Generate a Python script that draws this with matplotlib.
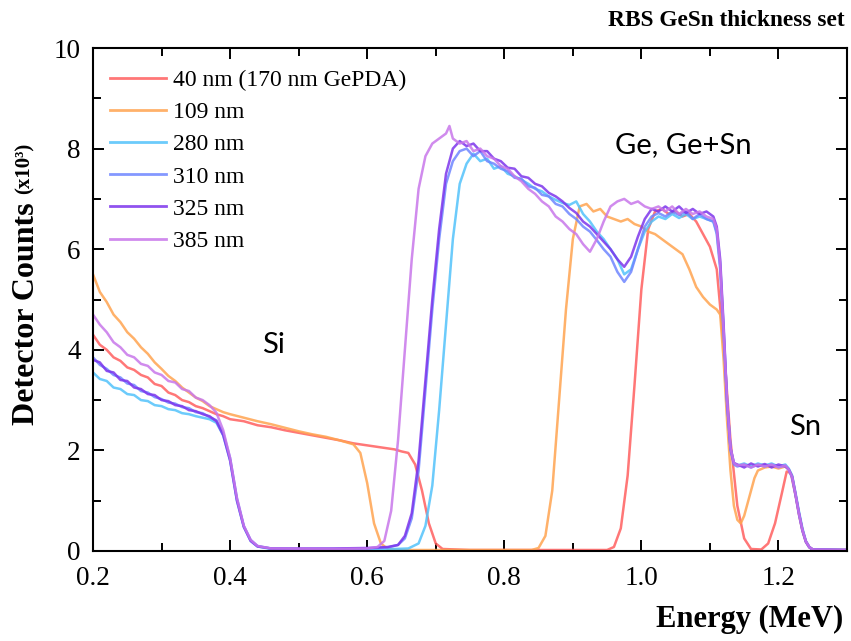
import matplotlib
matplotlib.use("Agg")
import matplotlib.pyplot as plt
from matplotlib.ticker import MultipleLocator, FormatStrFormatter

# ---------------- data ----------------
labels = ["40 nm (170 nm GePDA)", "109 nm", "280 nm", "310 nm", "325 nm", "385 nm"]
colors = ["#ff5f5f", "#ffa450", "#52c2fb", "#6f86ff", "#7d35ec", "#c877ea"]

x_40 = [0.20, 0.21, 0.22, 0.23, 0.24, 0.25, 0.26, 0.27, 0.28, 0.29, 0.30, 0.31, 0.32, 0.33, 0.34, 0.35,
        0.36, 0.37, 0.38, 0.39, 0.40, 0.42, 0.44, 0.46, 0.48, 0.50, 0.52, 0.54, 0.56, 0.58, 0.60, 0.62,
        0.64, 0.65, 0.66, 0.67, 0.68, 0.69, 0.70, 0.71, 0.75, 0.95, 0.96, 0.97, 0.98, 0.99, 1.00, 1.01,
        1.02, 1.03, 1.04, 1.05, 1.06, 1.07, 1.08, 1.09, 1.10, 1.11, 1.12, 1.13, 1.14, 1.15, 1.16, 1.175,
        1.185, 1.195, 1.205, 1.212, 1.218, 1.225, 1.23, 1.235, 1.24, 1.245, 1.25, 1.30]
y_40 = [4.30, 4.10, 4.00, 3.85, 3.78, 3.65, 3.60, 3.50, 3.45, 3.32, 3.28, 3.15, 3.10, 3.00, 2.96, 2.88,
        2.84, 2.78, 2.72, 2.68, 2.62, 2.58, 2.50, 2.46, 2.40, 2.35, 2.30, 2.25, 2.20, 2.14, 2.10, 2.06,
        2.02, 1.98, 1.95, 1.72, 1.20, 0.55, 0.15, 0.04, 0.02, 0.02, 0.08, 0.45, 1.50, 3.30, 5.20, 6.40,
        6.75, 6.80, 6.70, 6.75, 6.65, 6.70, 6.55, 6.30, 6.05, 5.60, 4.10, 2.20, 0.90, 0.25, 0.04, 0.03,
        0.15, 0.55, 1.15, 1.58, 1.55, 1.10, 0.72, 0.40, 0.18, 0.07, 0.03, 0.02]

x_109 = [0.20, 0.21, 0.22, 0.23, 0.24, 0.25, 0.26, 0.27, 0.28, 0.29, 0.30, 0.31, 0.32, 0.33, 0.34, 0.35,
         0.36, 0.37, 0.38, 0.39, 0.40, 0.42, 0.44, 0.46, 0.48, 0.50, 0.52, 0.54, 0.56, 0.58, 0.59, 0.60,
         0.61, 0.62, 0.63, 0.65, 0.84, 0.85, 0.86, 0.87, 0.88, 0.89, 0.90, 0.91, 0.92, 0.93, 0.94, 0.95,
         0.96, 0.97, 0.98, 0.99, 1.00, 1.01, 1.02, 1.03, 1.04, 1.05, 1.06, 1.07, 1.08, 1.09, 1.10, 1.11,
         1.115, 1.12, 1.125, 1.13, 1.135, 1.14, 1.145, 1.15, 1.155, 1.16, 1.165, 1.17, 1.18, 1.19, 1.20,
         1.21, 1.215, 1.22, 1.225, 1.23, 1.235, 1.24, 1.245, 1.25, 1.30]
y_109 = [5.50, 5.15, 4.95, 4.70, 4.55, 4.35, 4.22, 4.05, 3.92, 3.75, 3.62, 3.48, 3.38, 3.25, 3.15, 3.05,
         2.98, 2.88, 2.82, 2.76, 2.72, 2.65, 2.58, 2.52, 2.45, 2.38, 2.32, 2.27, 2.20, 2.12, 1.95, 1.35,
         0.55, 0.15, 0.04, 0.02, 0.02, 0.06, 0.30, 1.20, 3.00, 4.80, 6.20, 6.85, 6.90, 6.75, 6.80, 6.65,
         6.60, 6.55, 6.60, 6.50, 6.45, 6.35, 6.30, 6.20, 6.10, 6.00, 5.90, 5.60, 5.25, 5.05, 4.90, 4.80,
         4.70, 3.80, 2.60, 1.60, 0.90, 0.62, 0.55, 0.70, 0.95, 1.20, 1.45, 1.60, 1.66, 1.68, 1.64,
         1.68, 1.62, 1.48, 1.12, 0.74, 0.42, 0.19, 0.08, 0.03, 0.02]

x_280 = [0.20, 0.21, 0.22, 0.23, 0.24, 0.25, 0.26, 0.27, 0.28, 0.29, 0.30, 0.31, 0.32, 0.33, 0.34, 0.35,
         0.36, 0.37, 0.38, 0.39, 0.40, 0.41, 0.42, 0.43, 0.44, 0.46, 0.55, 0.62, 0.66, 0.675, 0.685, 0.695,
         0.705, 0.715, 0.725, 0.735, 0.745, 0.755, 0.765, 0.775, 0.785, 0.795, 0.805, 0.815, 0.825, 0.835,
         0.845, 0.855, 0.865, 0.875, 0.885, 0.895, 0.905, 0.915, 0.925, 0.935, 0.945, 0.955, 0.965, 0.975,
         0.985, 0.995, 1.005, 1.015, 1.025, 1.035, 1.045, 1.055, 1.065, 1.075, 1.085, 1.095, 1.105, 1.11,
         1.115, 1.12, 1.125, 1.13, 1.135, 1.14, 1.15, 1.16, 1.17, 1.18, 1.19, 1.20, 1.21, 1.215, 1.22,
         1.225, 1.23, 1.235, 1.24, 1.245, 1.25, 1.30]
y_280 = [3.55, 3.42, 3.38, 3.25, 3.22, 3.12, 3.10, 3.00, 2.98, 2.90, 2.88, 2.82, 2.80, 2.74, 2.72, 2.68,
         2.65, 2.62, 2.55, 2.30, 1.80, 1.00, 0.48, 0.20, 0.09, 0.04, 0.03, 0.03, 0.05, 0.15, 0.50, 1.30,
         2.80, 4.50, 6.20, 7.30, 7.70, 7.90, 7.75, 7.80, 7.60, 7.65, 7.50, 7.45, 7.38, 7.30,
         7.20, 7.15, 7.05, 6.98, 6.92, 6.88, 6.95, 6.70, 6.55, 6.35, 6.20, 6.00, 5.80, 5.50,
         5.60, 6.00, 6.35, 6.55, 6.65, 6.60, 6.70, 6.62, 6.70, 6.60, 6.65, 6.60, 6.55, 6.35,
         5.70, 4.40, 3.00, 2.05, 1.75, 1.70, 1.74, 1.68, 1.74, 1.70, 1.74, 1.68, 1.72, 1.64, 1.50,
         1.15, 0.78, 0.45, 0.20, 0.08, 0.03, 0.02]

x_310 = [0.20, 0.21, 0.22, 0.23, 0.24, 0.25, 0.26, 0.27, 0.28, 0.29, 0.30, 0.31, 0.32, 0.33, 0.34, 0.35,
         0.36, 0.37, 0.38, 0.39, 0.40, 0.41, 0.42, 0.43, 0.44, 0.46, 0.50, 0.55, 0.60, 0.63, 0.645, 0.655,
         0.665, 0.675, 0.685, 0.695, 0.705, 0.715, 0.725, 0.735, 0.745, 0.755, 0.765, 0.775, 0.785, 0.795,
         0.805, 0.815, 0.825, 0.835, 0.845, 0.855, 0.865, 0.875, 0.885, 0.895, 0.905, 0.915, 0.925, 0.935,
         0.945, 0.955, 0.965, 0.975, 0.985, 0.995, 1.005, 1.015, 1.025, 1.035, 1.045, 1.055, 1.065, 1.075,
         1.085, 1.095, 1.105, 1.11, 1.115, 1.12, 1.125, 1.13, 1.135, 1.14, 1.15, 1.16, 1.17, 1.18, 1.19,
         1.20, 1.21, 1.215, 1.22, 1.225, 1.23, 1.235, 1.24, 1.245, 1.25, 1.30]
y_310 = [3.85, 3.70, 3.62, 3.50, 3.45, 3.33, 3.30, 3.18, 3.15, 3.06, 3.02, 2.95, 2.93, 2.86, 2.84, 2.76,
         2.74, 2.66, 2.60, 2.35, 1.85, 1.05, 0.50, 0.22, 0.10, 0.05, 0.04, 0.04, 0.05, 0.07, 0.12, 0.25,
         0.65, 1.60, 3.20, 4.80, 6.20, 7.30, 7.75, 7.95, 8.00, 7.85, 7.95, 7.75, 7.70, 7.60,
         7.55, 7.42, 7.40, 7.25, 7.22, 7.08, 7.05, 6.90, 6.85, 6.70, 6.60, 6.45, 6.35, 6.18,
         6.00, 5.85, 5.55, 5.35, 5.55, 6.00, 6.45, 6.65, 6.72, 6.65, 6.75, 6.68, 6.75, 6.60,
         6.70, 6.60, 6.55, 6.30, 5.60, 4.30, 2.90, 2.00, 1.72, 1.68, 1.72, 1.66, 1.72, 1.68, 1.72,
         1.67, 1.70, 1.62, 1.45, 1.10, 0.72, 0.40, 0.18, 0.07, 0.03, 0.02]

x_325 = [0.20, 0.21, 0.22, 0.23, 0.24, 0.25, 0.26, 0.27, 0.28, 0.29, 0.30, 0.31, 0.32, 0.33, 0.34, 0.35,
         0.36, 0.37, 0.38, 0.39, 0.40, 0.41, 0.42, 0.43, 0.44, 0.46, 0.50, 0.55, 0.60, 0.63, 0.645, 0.655,
         0.665, 0.675, 0.685, 0.695, 0.705, 0.715, 0.725, 0.735, 0.745, 0.755, 0.765, 0.775, 0.785, 0.795,
         0.805, 0.815, 0.825, 0.835, 0.845, 0.855, 0.865, 0.875, 0.885, 0.895, 0.905, 0.915, 0.925, 0.935,
         0.945, 0.955, 0.965, 0.975, 0.985, 0.995, 1.005, 1.015, 1.025, 1.035, 1.045, 1.055, 1.065, 1.075,
         1.085, 1.095, 1.105, 1.11, 1.115, 1.12, 1.125, 1.13, 1.135, 1.14, 1.15, 1.16, 1.17, 1.18, 1.19,
         1.20, 1.21, 1.215, 1.22, 1.225, 1.23, 1.235, 1.24, 1.245, 1.25, 1.30]
y_325 = [3.80, 3.75, 3.58, 3.55, 3.40, 3.38, 3.25, 3.22, 3.12, 3.10, 3.00, 2.98, 2.90, 2.88, 2.80, 2.78,
         2.72, 2.68, 2.58, 2.30, 1.80, 1.00, 0.48, 0.20, 0.09, 0.05, 0.05, 0.05, 0.06, 0.08, 0.12, 0.30,
         0.75, 1.80, 3.40, 5.00, 6.40, 7.50, 8.00, 8.15, 8.05, 8.10, 7.95, 7.95, 7.80, 7.75,
         7.62, 7.60, 7.45, 7.42, 7.30, 7.25, 7.12, 7.05, 6.95, 6.82, 6.72, 6.55, 6.45, 6.30,
         6.15, 6.00, 5.80, 5.65, 5.85, 6.25, 6.60, 6.80, 6.75, 6.85, 6.75, 6.85, 6.72, 6.80,
         6.70, 6.75, 6.65, 6.45, 5.80, 4.50, 3.00, 2.05, 1.75, 1.72, 1.66, 1.74, 1.68, 1.73, 1.66,
         1.72, 1.68, 1.62, 1.48, 1.12, 0.75, 0.42, 0.19, 0.08, 0.03, 0.02]

x_385 = [0.20, 0.21, 0.22, 0.23, 0.24, 0.25, 0.26, 0.27, 0.28, 0.29, 0.30, 0.31, 0.32, 0.33, 0.34, 0.35,
         0.36, 0.37, 0.38, 0.39, 0.40, 0.41, 0.42, 0.43, 0.44, 0.46, 0.55, 0.60, 0.615, 0.625, 0.635, 0.645,
         0.655, 0.665, 0.675, 0.685, 0.695, 0.705, 0.715, 0.72, 0.725, 0.735, 0.745, 0.755, 0.765, 0.775,
         0.785, 0.795, 0.805, 0.815, 0.825, 0.835, 0.845, 0.855, 0.865, 0.875, 0.885, 0.895, 0.905, 0.915,
         0.925, 0.935, 0.945, 0.955, 0.965, 0.975, 0.985, 0.995, 1.005, 1.015, 1.025, 1.035, 1.045, 1.055,
         1.065, 1.075, 1.085, 1.095, 1.105, 1.11, 1.115, 1.12, 1.125, 1.13, 1.135, 1.14, 1.15, 1.16, 1.17,
         1.18, 1.19, 1.20, 1.21, 1.215, 1.22, 1.225, 1.23, 1.235, 1.24, 1.245, 1.25, 1.30]
y_385 = [4.70, 4.50, 4.35, 4.15, 4.05, 3.90, 3.85, 3.72, 3.68, 3.55, 3.50, 3.38, 3.35, 3.22, 3.18, 3.05,
         3.00, 2.90, 2.75, 2.40, 1.85, 1.05, 0.50, 0.22, 0.10, 0.05, 0.04, 0.05, 0.08, 0.20, 0.80, 2.20,
         4.00, 5.80, 7.20, 7.85, 8.10, 8.20, 8.30, 8.45, 8.20, 8.10, 8.15, 7.95, 8.00, 7.85,
         7.80, 7.65, 7.60, 7.45, 7.35, 7.20, 7.10, 6.95, 6.85, 6.65, 6.55, 6.40, 6.30, 6.10,
         5.95, 6.20, 6.55, 6.85, 6.95, 7.00, 6.90, 6.95, 6.85, 6.80, 6.85, 6.75, 6.85, 6.70,
         6.80, 6.70, 6.75, 6.65, 6.60, 6.40, 5.70, 4.40, 3.00, 2.05, 1.75, 1.70, 1.72, 1.66, 1.72,
         1.68, 1.72, 1.66, 1.70, 1.62, 1.47, 1.12, 0.74, 0.42, 0.19, 0.08, 0.03, 0.02]

series_x = [x_40, x_109, x_280, x_310, x_325, x_385]
series_y = [y_40, y_109, y_280, y_310, y_325, y_385]

annotations = [("Si", 0.463, 4.10), ("Ge, Ge+Sn", 1.061, 8.07), ("Sn", 1.239, 2.47)]
title = "RBS GeSn thickness set"
xlabel = "Energy (MeV)"
ylabel_main = "Detector Counts"
ylabel_unit = "(x10³)"

# ---------------- figure ----------------
serif = ["Liberation Serif", "DejaVu Serif"]
fig = plt.figure(figsize=(8.51, 6.41), dpi=100)
ax = fig.add_axes([93 / 851, 90 / 641, 754 / 851, 503 / 641])

for xs, ys, c, lab in zip(series_x, series_y, colors, labels):
    ax.plot(xs, ys, color=c, lw=1.8, alpha=0.85, label=lab)

ax.set_xlim(0.2, 1.3)
ax.set_ylim(0, 10)
ax.xaxis.set_major_locator(MultipleLocator(0.2))
ax.xaxis.set_minor_locator(MultipleLocator(0.1))
ax.yaxis.set_major_locator(MultipleLocator(2))
ax.yaxis.set_minor_locator(MultipleLocator(1))
ax.xaxis.set_major_formatter(FormatStrFormatter("%.1f"))
ax.yaxis.set_major_formatter(FormatStrFormatter("%d"))
ax.tick_params(which="both", direction="in", top=True, right=True, width=1.4)
ax.tick_params(which="major", length=8, labelsize=19.5)
ax.tick_params(axis="x", which="major", pad=11)
ax.tick_params(axis="y", which="major", pad=9)
ax.tick_params(which="minor", length=6)
for lab in ax.get_xticklabels() + ax.get_yticklabels():
    lab.set_family(serif)
for s in ax.spines.values():
    s.set_linewidth(1.5)

leg = ax.legend(loc="upper left", bbox_to_anchor=(0.0, 0.99), frameon=False,
                prop={"family": serif, "size": 17}, handlelength=2.4,
                handletextpad=0.3, labelspacing=0.45, borderaxespad=0.3)
for h in leg.get_lines():
    h.set_linewidth(2.0)

ax.text(annotations[0][1], annotations[0][2], annotations[0][0], ha="center", va="center",
        fontsize=21, family=["Lato", "DejaVu Sans"])
for txt, xv, yv in annotations[1:]:
    ax.text(xv, yv, txt, ha="center", va="center", fontsize=21, family=["Lato", "DejaVu Sans"])

fig.text(845 / 851, 1 - 20 / 641, title, ha="right", va="center", fontsize=16.8,
         fontweight="bold", family=serif)
fig.text(843 / 851, 1 - 619 / 641, xlabel, ha="right", va="center", fontsize=22,
         fontweight="bold", family=serif)
fig.text(27 / 851, 1 - 314 / 641, ylabel_main, ha="center", va="center", rotation=90,
         fontsize=23, fontweight="bold", family=serif)
fig.text(25 / 851, 1 - 168 / 641, ylabel_unit, ha="center", va="center", rotation=90,
         fontsize=15, fontweight="bold", family=serif)

fig.savefig("out.png", dpi=100)
